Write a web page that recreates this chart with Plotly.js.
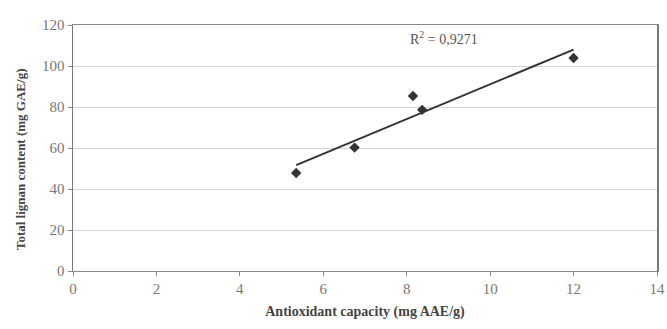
<!DOCTYPE html>
<html>
<head>
<meta charset="utf-8">
<script src="https://cdn.plot.ly/plotly-3.0.1.min.js"></script>
<style>html,body{margin:0;padding:0;background:#fff;}#chart{width:667px;height:329px;}</style>
</head>
<body>
<div id="chart"></div>
<script>
const capacity = [5.35, 6.75, 8.15, 8.37, 12.0];
const lignan = [47.8, 60.2, 85.4, 78.6, 103.9];
const r2Label = 'R<sup>2</sup> = 0,9271';
const xTicks = [0, 2, 4, 6, 8, 10, 12, 14];
const yTicks = [0, 20, 40, 60, 80, 100, 120];
const xTitle = 'Antioxidant capacity (mg AAE/g)';
const yTitle = 'Total lignan content (mg GAE/g)';

// least-squares trendline from the data
const n = capacity.length;
const mx = capacity.reduce((a, b) => a + b, 0) / n;
const my = lignan.reduce((a, b) => a + b, 0) / n;
let sxy = 0, sxx = 0;
for (let i = 0; i < n; i++) { sxy += (capacity[i] - mx) * (lignan[i] - my); sxx += (capacity[i] - mx) ** 2; }
const slope = sxy / sxx, icpt = my - slope * mx;
const tx = [Math.min(...capacity), Math.max(...capacity)];
const ty = tx.map(v => icpt + slope * v);

const font = 'Liberation Serif, Times New Roman, serif';
const data = [
  {x: tx, y: ty, mode: 'lines', line: {color: '#333', width: 2}, hoverinfo: 'skip'},
  {x: capacity, y: lignan, mode: 'markers', marker: {symbol: 'diamond', size: 8, color: '#333'}}
];
const layout = {
  width: 667, height: 329,
  margin: {l: 73, r: 10, t: 25, b: 58},
  paper_bgcolor: '#fff', plot_bgcolor: '#fff',
  showlegend: false,
  font: {family: font, color: '#666', size: 14},
  xaxis: {
    range: [0, 14], tickvals: xTicks, showgrid: false, zeroline: false,
    showline: true, linecolor: '#888', linewidth: 1, mirror: true,
    ticks: 'outside', ticklen: 4, tickcolor: '#888', ticklabeloverflow: 'allow',
    tickfont: {family: font, size: 15, color: '#777'},
    title: {text: '<b>' + xTitle + '</b>', font: {family: font, size: 14, color: '#444'}, standoff: 10}
  },
  yaxis: {
    range: [0, 120], tickvals: yTicks, showgrid: true, gridcolor: '#d4d4d4', gridwidth: 1, zeroline: false,
    showline: true, linecolor: '#777', linewidth: 1.5, mirror: true,
    ticks: 'outside', ticklen: 4, tickcolor: '#888',
    tickfont: {family: font, size: 15, color: '#777'}
  },
  annotations: [
    {x: 8.9, y: 113.5, xref: 'x', yref: 'y', text: r2Label, showarrow: false, font: {family: font, size: 14, color: '#555'}},
    {x: 0, y: 0.455, xref: 'paper', yref: 'paper', xshift: -53, textangle: -90, xanchor: 'center', yanchor: 'middle',
     text: '<b>' + yTitle + '</b>', showarrow: false, font: {family: font, size: 13, color: '#444'}}
  ]
};
Plotly.newPlot('chart', data, layout, {displayModeBar: false, staticPlot: true});
</script>
</body>
</html>
